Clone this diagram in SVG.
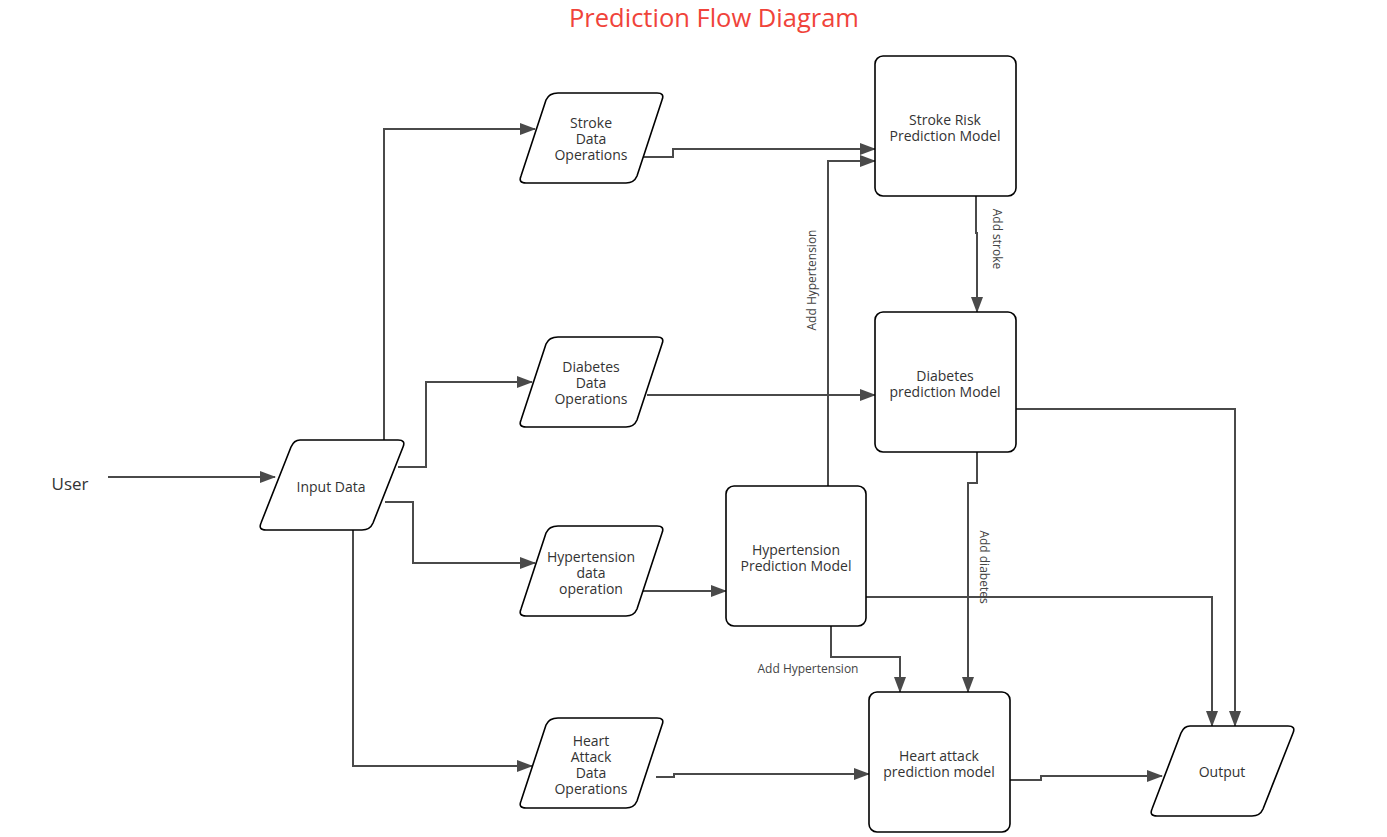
<svg xmlns="http://www.w3.org/2000/svg" width="1387" height="837" viewBox="0 0 1387 837">
<style>
.n{fill:#fff;stroke:#000;stroke-width:1.6}
.t{font-family:"Open Sans","Noto Sans",sans-serif;font-size:14px;fill:#333;text-anchor:middle}
.c path{fill:none;stroke:#4a4a4a;stroke-width:2}
.l{font-family:"Open Sans","Noto Sans",sans-serif;font-size:12px;fill:#444;text-anchor:middle}
</style>
<defs>
<marker id="a" markerWidth="16" markerHeight="12" refX="15" refY="6" orient="auto" markerUnits="userSpaceOnUse">
<path d="M0,0 L16,6 L0,12 Z" fill="#4a4a4a"/>
</marker>
</defs>
<rect width="1387" height="837" fill="#fff"/>
<text x="714" y="27" font-family="'Open Sans','Noto Sans',sans-serif" font-size="25.5" fill="#f0433a" text-anchor="middle">Prediction Flow Diagram</text>
<text x="70" y="490" class="t" style="font-size:17px">User</text>

<g class="c">
<path d="M108,477 H275" marker-end="url(#a)"/>
<path d="M384,440 V129 H535" marker-end="url(#a)"/>
<path d="M398,467 H426 V382 H532" marker-end="url(#a)"/>
<path d="M385,502 H413 V563 H535" marker-end="url(#a)"/>
<path d="M353,530 V766 H532" marker-end="url(#a)"/>
<path d="M640,157 H673 V149 H875" marker-end="url(#a)"/>
<path d="M647,395 H875" marker-end="url(#a)"/>
<path d="M641,591 H726" marker-end="url(#a)"/>
<path d="M656,777 H674 V774 H869" marker-end="url(#a)"/>
<path d="M828,486 V161 H875" marker-end="url(#a)"/>
<path d="M976,196 V233 H977 V312" marker-end="url(#a)"/>
<path d="M977,452 V483 H968 V692" marker-end="url(#a)"/>
<path d="M831,626 V657 H900 V692" marker-end="url(#a)"/>
<path d="M866,597 H1212 V726" marker-end="url(#a)"/>
<path d="M1016,409 H1235 V726" marker-end="url(#a)"/>
<path d="M1010,780 H1041 V776 H1162" marker-end="url(#a)"/>
</g>
<text class="l" transform="translate(816,280) rotate(-90)">Add Hypertension</text>
<text class="l" transform="translate(993,239) rotate(90)">Add stroke</text>
<text class="l" transform="translate(980,567) rotate(90)">Add diabetes</text>
<text class="l" x="808" y="673">Add Hypertension</text>

<g id="input">
<path class="n" d="M300,440 H398 Q406,440 403,447 L373,523 Q370,530 362,530 H266 Q258,530 261,523 L291,447 Q294,440 300,440 Z"/>
<text class="t" x="331" y="492">Input Data</text>
</g>
<g id="stroke-ops">
<path class="n" d="M558,93 H657 Q665,93 662,100 L637,176 Q634,183 626,183 H526 Q518,183 521,176 L546,100 Q549,93 558,93 Z"/>
<text class="t" x="591" y="128">Stroke</text>
<text class="t" x="591" y="144">Data</text>
<text class="t" x="591" y="160">Operations</text>
</g>
<g id="diabetes-ops">
<path class="n" d="M558,337 H657 Q665,337 662,344 L637,420 Q634,427 626,427 H526 Q518,427 521,420 L546,344 Q549,337 558,337 Z"/>
<text class="t" x="591" y="372">Diabetes</text>
<text class="t" x="591" y="388">Data</text>
<text class="t" x="591" y="404">Operations</text>
</g>
<g id="hypertension-ops">
<path class="n" d="M558,526 H657 Q665,526 662,533 L637,609 Q634,616 626,616 H526 Q518,616 521,609 L546,533 Q549,526 558,526 Z"/>
<text class="t" x="591" y="562">Hypertension</text>
<text class="t" x="591" y="578">data</text>
<text class="t" x="591" y="594">operation</text>
</g>
<g id="heart-ops">
<path class="n" d="M558,718 H657 Q665,718 662,725 L637,801 Q634,808 626,808 H526 Q518,808 521,801 L546,725 Q549,718 558,718 Z"/>
<text class="t" x="591" y="746">Heart</text>
<text class="t" x="591" y="762">Attack</text>
<text class="t" x="591" y="778">Data</text>
<text class="t" x="591" y="794">Operations</text>
</g>
<g id="stroke-model">
<rect class="n" x="875" y="56" width="141" height="140" rx="8"/>
<text class="t" x="945" y="125">Stroke Risk</text>
<text class="t" x="945" y="141">Prediction Model</text>
</g>
<g id="diabetes-model">
<rect class="n" x="875" y="312" width="141" height="140" rx="8"/>
<text class="t" x="945" y="381">Diabetes</text>
<text class="t" x="945" y="397">prediction Model</text>
</g>
<g id="hypertension-model">
<rect class="n" x="726" y="486" width="140" height="140" rx="8"/>
<text class="t" x="796" y="555">Hypertension</text>
<text class="t" x="796" y="571">Prediction Model</text>
</g>
<g id="heart-model">
<rect class="n" x="869" y="692" width="141" height="140" rx="8"/>
<text class="t" x="939" y="761">Heart attack</text>
<text class="t" x="939" y="777">prediction model</text>
</g>
<g id="output">
<path class="n" d="M1190,726 H1288 Q1296,726 1293,733 L1263,809 Q1260,816 1252,816 H1157 Q1149,816 1152,809 L1181,733 Q1184,726 1190,726 Z"/>
<text class="t" x="1222" y="777">Output</text>
</g>
</svg>
